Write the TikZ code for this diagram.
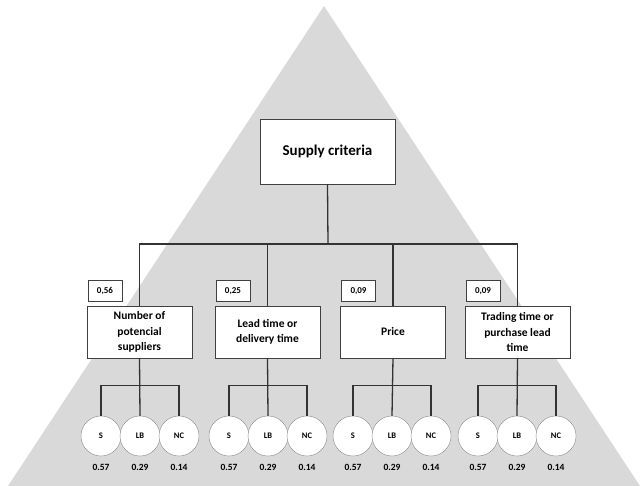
\documentclass[tikz,border=0pt]{standalone}
\usepackage{fontspec}
\setmainfont{Carlito}
\usetikzlibrary{positioning}

\begin{document}
\begin{tikzpicture}[x=1pt,y=-1pt,
  link/.style={draw=black!80,line width=1.3pt},
  topbox/.style={draw=black!75,fill=white,minimum width=135pt,minimum height=65pt,font=\bfseries\fontsize{15}{18}\selectfont},
  crit/.style={draw=black!75,fill=white,minimum width=105pt,minimum height=52pt,inner sep=1pt,align=center,font=\bfseries\fontsize{11.5}{15.5}\selectfont},
  wbox/.style={draw=black!75,fill=white,minimum width=34pt,minimum height=21pt,inner sep=1pt,font=\bfseries\fontsize{9}{10}\selectfont},
  opt/.style={circle,draw=black!45,fill=white,minimum size=40pt,inner sep=0pt,font=\bfseries\fontsize{8.5}{9}\selectfont},
  val/.style={inner sep=1pt,font=\bfseries\fontsize{9.5}{10}\selectfont}]
  \useasboundingbox (0,0) rectangle (643,486);
  \fill[black!15] (8,486) -- (324,6) -- (640,486) -- cycle;

  \node[topbox] (supply) at (327.5,151.5) {Supply criteria};
  \node[crit] (c1) at (139.5,332) {Number of\\potencial\\suppliers};
  \node[crit] (c2) at (267.5,332) {Lead time or\\delivery time};
  \node[crit] (c3) at (393,332) {Price};
  \node[crit] (c4) at (517.5,332) {Trading time or\\purchase lead\\time};

  \node[wbox,above=4pt of c1.north west,anchor=south west,xshift=1pt] (w1) {0,56};
  \node[wbox,above=4pt of c2.north west,anchor=south west,xshift=1pt] (w2) {0,25};
  \node[wbox,above=4pt of c3.north west,anchor=south west,xshift=1pt] (w3) {0,09};
  \node[wbox,above=4pt of c4.north west,anchor=south west,xshift=1pt] (w4) {0,09};

  \coordinate (hub) at (328,244);
  \draw[link] (supply.south) -- (hub);
  \draw[link] (c1.north) |- (hub) -| (c4.north);
  \draw[link] (c2.north) -- (c2.north |- hub);
  \draw[link] (c3.north) -- (c3.north |- hub);

  \foreach \i/\x in {1/140,2/268,3/392,4/517} {
    \node[opt] (s\i) at (\x-39,436) {S};
    \node[opt] (lb\i) at (\x,436) {LB};
    \node[opt] (nc\i) at (\x+39,436) {NC};
    \node[val,below=7pt of s\i] (vs\i) {0.57};
    \node[val,below=7pt of lb\i] (vlb\i) {0.29};
    \node[val,below=7pt of nc\i] (vnc\i) {0.14};
    \draw[link] (c\i.south) -- (lb\i.north);
    \draw[link] (s\i.north) -- ++(0,-30) -| (nc\i.north);
  }
\end{tikzpicture}
\end{document}
